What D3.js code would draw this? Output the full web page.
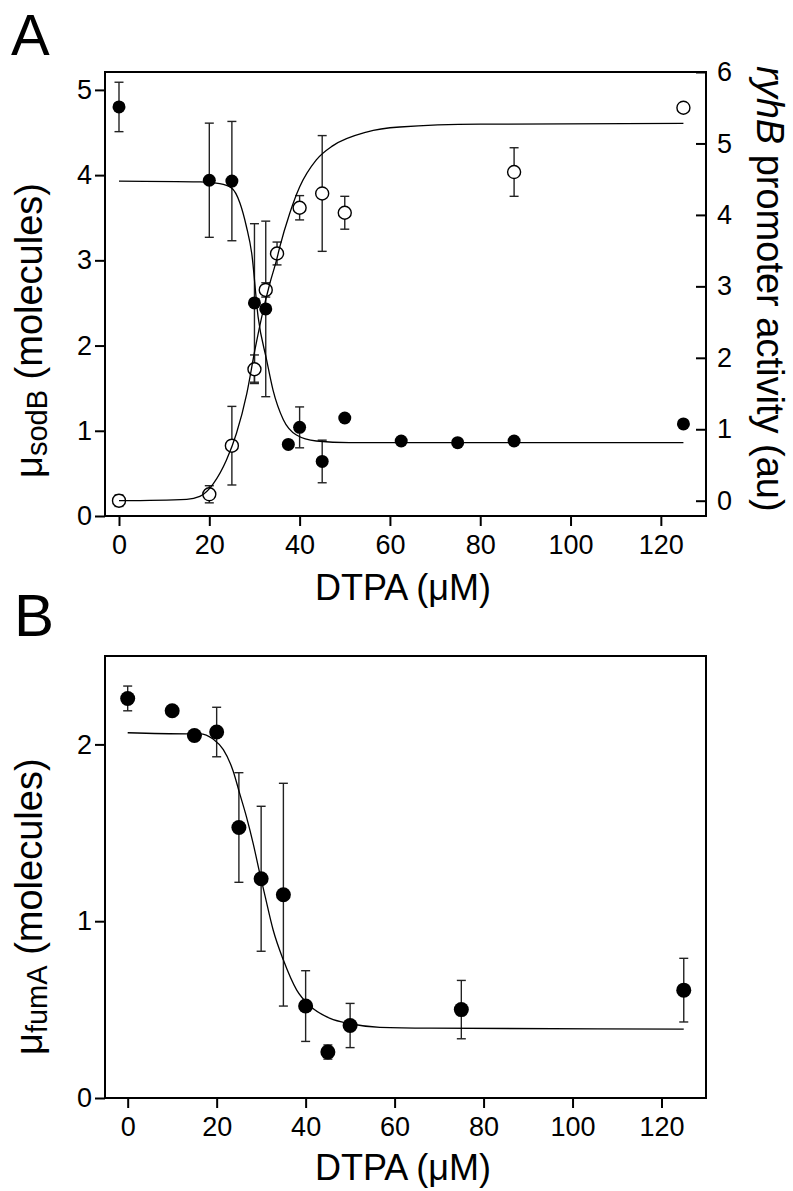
<!DOCTYPE html>
<html>
<head>
<meta charset="utf-8">
<script src="https://cdn.jsdelivr.net/npm/d3@7"></script>
<style>
  body { margin: 0; background: #fff; }
  text { font-family: "Liberation Sans", Arial, Helvetica, sans-serif; fill: #000; }
</style>
</head>
<body>
<div id="output"></div>
<script>
// ---- Panel A: sodB (filled, left axis) ----
var doseSodB = [0, 20, 25, 30, 32.5, 37.5, 40, 45, 50, 62.5, 75, 87.5, 125];
var sodB     = [4.80, 3.94, 3.93, 2.50, 2.43, 0.84, 1.04, 0.64, 1.15, 0.88, 0.86, 0.88, 1.08];
var sodBErr  = [0.29, 0.67, 0.70, 0.93, 1.03, 0, 0.24, 0.25, 0, 0, 0, 0, 0];

// ---- Panel A: ryhB promoter (open, right axis) ----
var doseRyhB = [0, 20, 25, 30, 32.5, 35, 40, 45, 50, 87.5, 125];
var ryhB     = [0.00, 0.09, 0.77, 1.84, 2.95, 3.46, 4.10, 4.30, 4.03, 4.60, 5.50];
var ryhBErr  = [0.08, 0.12, 0.55, 0.20, 0.10, 0.16, 0.17, 0.81, 0.23, 0.34, 0];

// fitted curves
var fitSodBX = [0, 18, 22.3, 24.9, 26.8, 28.2, 29.4, 30.8, 32.7, 34.1, 36.4, 39.3, 43.7, 51, 60, 125];
var fitSodBY = [3.93, 3.92, 3.90, 3.85, 3.67, 3.40, 3.08, 2.34, 1.83, 1.48, 1.13, 0.95, 0.88, 0.86, 0.86, 0.86];
var fitRyhBX = [0, 15, 17.9, 20.9, 23.8, 26.0, 28.3, 30.1, 31.6, 33.4, 34.9, 35.6, 37.8, 40.0, 43.7, 47.4, 54.8, 62.2, 80, 125];
var fitRyhBY = [0.00, 0.02, 0.06, 0.24, 0.57, 0.94, 1.50, 2.11, 2.57, 3.04, 3.37, 3.55, 4.02, 4.39, 4.77, 4.97, 5.16, 5.23, 5.27, 5.28];

// ---- Panel B: fumA ----
var doseFumA = [0, 10, 15, 20, 25, 30, 35, 40, 45, 50, 75, 125];
var fumA     = [2.26, 2.19, 2.05, 2.07, 1.53, 1.24, 1.15, 0.52, 0.26, 0.41, 0.50, 0.61];
var fumAErr  = [0.07, 0, 0, 0.14, 0.31, 0.41, 0.63, 0.20, 0.04, 0.125, 0.165, 0.18];
var fitFumAX = [0, 13.3, 16.2, 19.2, 21.5, 23.7, 25.2, 26.7, 28.2, 29.7, 30.9, 32.7, 35.0, 38.0, 41.0, 45.5, 50, 56.7, 67.9, 125];
var fitFumAY = [2.066, 2.06, 2.06, 2.03, 1.97, 1.85, 1.72, 1.59, 1.44, 1.27, 1.14, 0.95, 0.78, 0.61, 0.52, 0.45, 0.42, 0.40, 0.395, 0.39];

// tick labels
var xTicks = [0, 20, 40, 60, 80, 100, 120];
var yTicksA = [0, 1, 2, 3, 4, 5];
var yTicksR = [0, 1, 2, 3, 4, 5, 6];
var yTicksB = [0, 1, 2];

var width = 793;
var height = 1191;
var left = 105;
var right = 706;
var font = '"Liberation Sans", Arial, Helvetica, sans-serif';
var fmt = d3.format('d');

var svg = d3.select('#output')
  .append('svg')
  .attr('width', width)
  .attr('height', height);

function styleAxis(g) {
  g.select('.domain').remove();
  g.selectAll('line').attr('stroke', '#000').attr('stroke-width', 2);
  g.selectAll('text').attr('font-size', 27).attr('font-family', font).attr('fill', '#000');
}

function errorBars(x, y, xs, ys, es) {
  var g = svg.append('g').attr('stroke', '#222').attr('stroke-width', 1.4).attr('fill', 'none');
  xs.forEach(function (d, i) {
    if (!es[i]) return;
    var cx = x(d), y1 = y(ys[i] + es[i]), y2 = y(ys[i] - es[i]);
    g.append('line').attr('x1', cx).attr('x2', cx).attr('y1', y1).attr('y2', y2);
    g.append('line').attr('x1', cx - 4.5).attr('x2', cx + 4.5).attr('y1', y1).attr('y2', y1);
    g.append('line').attr('x1', cx - 4.5).attr('x2', cx + 4.5).attr('y1', y2).attr('y2', y2);
  });
}

function dots(x, y, xs, ys, r, open) {
  svg.append('g').selectAll('circle')
    .data(xs)
    .enter()
    .append('circle')
    .attr('cx', function (d) { return x(d); })
    .attr('cy', function (d, i) { return y(ys[i]); })
    .attr('r', r)
    .attr('fill', open ? '#fff' : '#000')
    .attr('stroke', '#000')
    .attr('stroke-width', open ? 1.4 : 0);
}

function fit(x, y, xs, ys) {
  var line = d3.line()
    .x(function (d) { return x(d); })
    .y(function (d, i) { return y(ys[i]); })
    .curve(d3.curveMonotoneX);
  svg.append('path')
    .attr('d', line(xs))
    .attr('fill', 'none')
    .attr('stroke', '#000')
    .attr('stroke-width', 1.3);
}

function frame(top, bottom) {
  svg.append('rect')
    .attr('x', left).attr('y', top)
    .attr('width', right - left).attr('height', bottom - top)
    .attr('fill', 'none').attr('stroke', '#000').attr('stroke-width', 2);
}

// ================= Panel A =================
var topA = 72, botA = 516;
var xA = d3.scaleLinear().domain([-3.1, 130]).range([left, right]);
var yA = d3.scaleLinear().domain([0, 5.21]).range([botA, topA]);
var yR = d3.scaleLinear().domain([-0.214, 6]).range([botA, topA]);

svg.append('g')
  .attr('transform', `translate(0, ${botA})`)
  .call(d3.axisBottom(xA).tickValues(xTicks).tickFormat(fmt).tickSize(10).tickPadding(9))
  .call(styleAxis);
svg.append('g')
  .attr('transform', `translate(${left}, 0)`)
  .call(d3.axisLeft(yA).tickValues(yTicksA).tickFormat(fmt).tickSize(10).tickPadding(3))
  .call(styleAxis);
// right axis ticks point into the plot
svg.append('g')
  .attr('transform', `translate(${right}, 0)`)
  .call(d3.axisRight(yR).tickValues(yTicksR).tickFormat(fmt).tickSize(-10).tickPadding(11))
  .call(styleAxis);

errorBars(xA, yA, doseSodB, sodB, sodBErr);
errorBars(xA, yR, doseRyhB, ryhB, ryhBErr);
dots(xA, yA, doseSodB, sodB, 6.5, false);
dots(xA, yR, doseRyhB, ryhB, 6.5, true);
fit(xA, yA, fitSodBX, fitSodBY);
fit(xA, yR, fitRyhBX, fitRyhBY);
frame(topA, botA);

// ================= Panel B =================
var topB = 656, botB = 1098;
var xB = d3.scaleLinear().domain([-5.1, 130]).range([left, right]);
var yB = d3.scaleLinear().domain([0, 2.5]).range([botB, topB]);

svg.append('g')
  .attr('transform', `translate(0, ${botB})`)
  .call(d3.axisBottom(xB).tickValues(xTicks).tickFormat(fmt).tickSize(10).tickPadding(9))
  .call(styleAxis);
svg.append('g')
  .attr('transform', `translate(${left}, 0)`)
  .call(d3.axisLeft(yB).tickValues(yTicksB).tickFormat(fmt).tickSize(10).tickPadding(3))
  .call(styleAxis);

errorBars(xB, yB, doseFumA, fumA, fumAErr);
dots(xB, yB, doseFumA, fumA, 7.5, false);
fit(xB, yB, fitFumAX, fitFumAY);
frame(topB, botB);

// ================= Labels =================
svg.append('text').attr('x', 11).attr('y', 55).attr('font-size', 58).text('A');
svg.append('text').attr('x', 14).attr('y', 636).attr('font-size', 60).text('B');

svg.append('text').attr('x', 403).attr('y', 600).attr('text-anchor', 'middle').attr('font-size', 36).text('DTPA (\u03bcM)');
svg.append('text').attr('x', 403).attr('y', 1180).attr('text-anchor', 'middle').attr('font-size', 36).text('DTPA (\u03bcM)');

function yLabel(x, y, sub) {
  var t = svg.append('text')
    .attr('transform', `translate(${x}, ${y}) rotate(-90)`)
    .attr('font-size', 38);
  t.append('tspan').text('\u03bc');
  t.append('tspan').attr('font-size', 29).attr('dy', 5).text(sub);
  t.append('tspan').attr('dy', -5).text(' (molecules)');
}
yLabel(42, 478, 'sodB');
yLabel(42, 1055, 'fumA');

var rl = svg.append('text')
  .attr('transform', 'translate(757, 66) rotate(90)')
  .attr('font-size', 38);
rl.append('tspan').attr('font-style', 'italic').text('ryhB');
rl.append('tspan').text(' promoter activity (au)');
</script>
</body>
</html>
